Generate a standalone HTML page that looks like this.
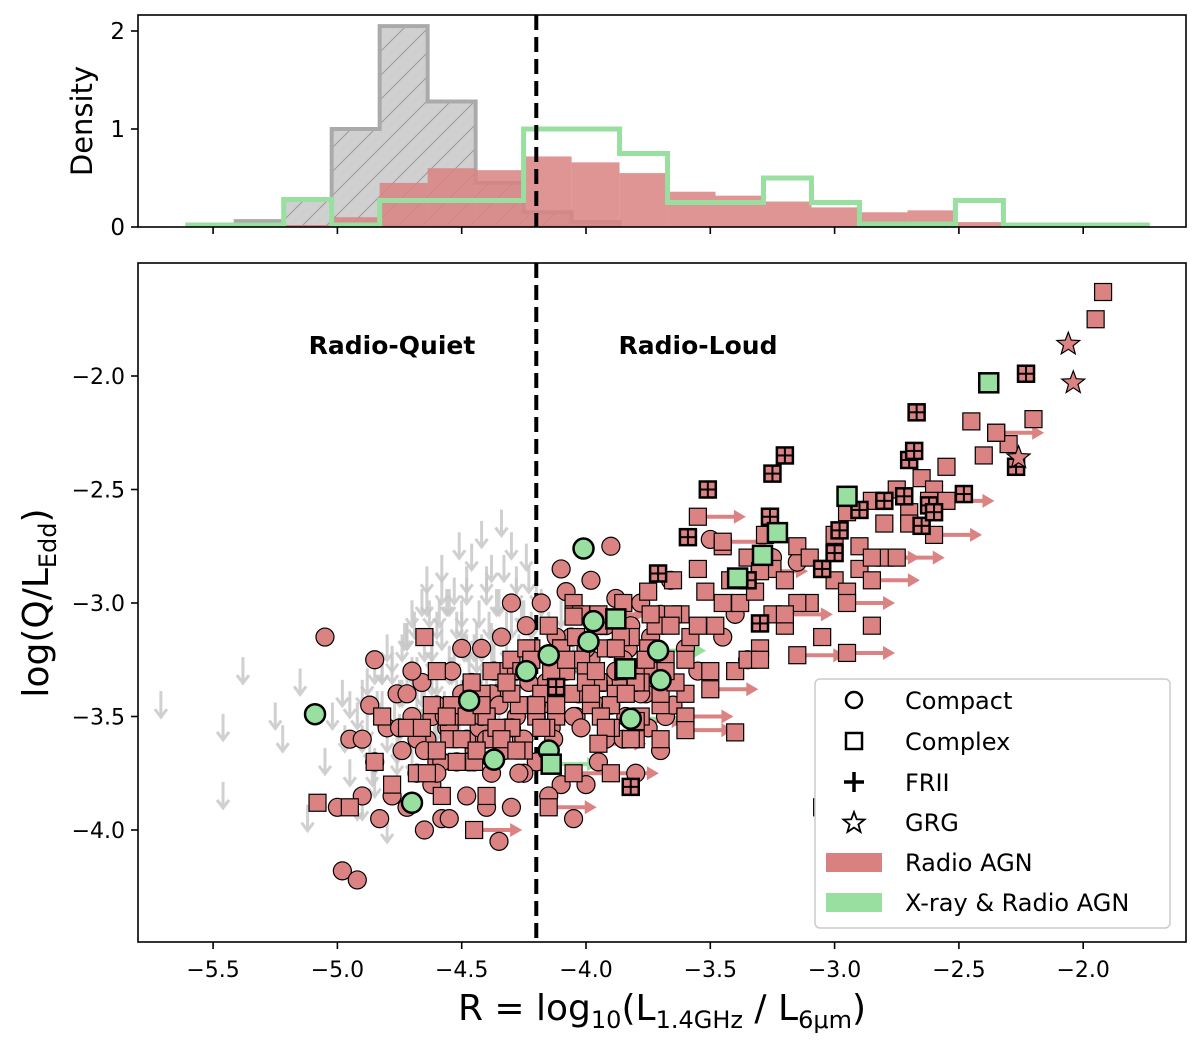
<!DOCTYPE html>
<html><head><meta charset="utf-8"><style>
body{margin:0;background:#fff}
svg{display:block;font-family:"DejaVu Sans","Liberation Sans",sans-serif}
</style></head><body>
<svg id="fig" width="1200" height="1048" viewBox="0 0 1200 1048" xmlns="http://www.w3.org/2000/svg">
<defs>
<pattern id="hatch" patternUnits="userSpaceOnUse" width="24" height="24">
<path d="M-6,30 L30,-6 M-6,6 L6,-6 M18,30 L30,18" stroke="#999" stroke-width="1"/>
</pattern>
<clipPath id="clipTop"><rect x="138" y="15" width="1048" height="212"/></clipPath>
<clipPath id="clipMain"><rect x="138" y="263" width="1048" height="679"/></clipPath>
</defs>
<g id="topPanel" clip-path="url(#clipTop)"></g>
<g id="mainPanel" clip-path="url(#clipMain)"></g>
<g id="axes"></g>
</svg>
<script>
const NS="http://www.w3.org/2000/svg";
// ---- histogram data ----
const histStart=-5.602;
const histWidth=0.193;
const grayHist=[0.02,0.06,0.28,1.0,2.05,1.28,0.45,0.15,0.05];
const redHist=[0,0,0.02,0.1,0.45,0.6,0.58,0.72,0.66,0.55,0.36,0.32,0.26,0.2,0.15,0.17,0.05,0.02];
const greenHist=[0.02,0.02,0.28,0.02,0.27,0.27,0.27,1.0,1.0,0.75,0.25,0.25,0.5,0.25,0.03,0.03,0.27,0.02,0.02,0.02];
const xTicks=[-5.5,-5.0,-4.5,-4.0,-3.5,-3.0,-2.5,-2.0];
const xTickLabels=["\u22125.5","\u22125.0","\u22124.5","\u22124.0","\u22123.5","\u22123.0","\u22122.5","\u22122.0"];
const densTicks=[0,1,2];
const yTicks=[-2.0,-2.5,-3.0,-3.5,-4.0];
const yTickLabels=["\u22122.0","\u22122.5","\u22123.0","\u22123.5","\u22124.0"];
const radioLoudCut=-4.2;
// ---- scatter data ----
const upperX=[-5.71,-5.46,-5.38,-5.46,-5.25,-5.22,-5.15,-5.12,-5.05,-5.02,-4.98,-4.95,-4.92,-4.9,-4.88,-4.85,-4.83,-4.8,-4.78,-4.76,-4.74,-4.72,-4.7,-4.68,-4.66,-4.64,-4.62,-4.6,-4.58,-4.56,-4.55,-4.53,-4.51,-4.5,-4.48,-4.46,-4.44,-4.42,-4.4,-4.38,-4.36,-4.34,-4.32,-4.3,-4.28,-4.26,-4.24,-4.22,-4.2,-4.18,-4.15,-4.12,-4.1,-4.05,-4.0,-4.9,-4.8,-4.7,-4.6,-4.5,-4.4,-4.35,-4.3,-4.25,-4.45,-4.55,-4.65,-4.75,-4.85,-4.95,-4.52,-4.42,-4.32,-4.62,-4.72,-4.82,-4.38,-4.28,-4.48,-4.58,
-4.9,-4.88,-4.85,-4.82,-4.8,-4.78,-4.75,-4.73,-4.7,-4.68,-4.65,-4.63,-4.6,-4.58,-4.55,-4.53,-4.5,-4.48,-4.45,-4.43,-4.4,-4.38,-4.35,-4.33,-4.3,-4.28,-4.25,-4.23,-4.87,-4.77,-4.67,-4.57,-4.47,-4.37,-4.27,-4.72,-4.62,-4.52,-4.42,-4.32,-4.82,-4.92,-4.97,-4.69,-4.59,-4.49,-4.39,-4.64,-4.54,-4.44,-4.74,-4.84,-4.66,-4.56,-4.46,-4.36,-4.76,-4.86,-4.61,-4.51];
const upperY=[-3.45,-3.55,-3.3,-3.85,-3.5,-3.6,-3.35,-3.95,-3.7,-3.5,-3.4,-3.75,-3.9,-3.6,-3.35,-3.8,-3.5,-3.2,-3.3,-3.65,-3.4,-3.15,-3.05,-3.3,-3.0,-2.9,-3.2,-3.1,-2.85,-3.0,-3.25,-2.95,-2.75,-3.05,-2.9,-2.8,-3.15,-2.7,-2.95,-2.85,-3.0,-2.65,-3.2,-2.75,-2.9,-3.05,-2.8,-3.1,-2.95,-3.0,-3.1,-3.15,-3.05,-3.2,-3.25,-3.9,-4.0,-3.7,-3.55,-3.4,-3.35,-3.5,-3.45,-3.3,-3.6,-3.3,-3.45,-3.55,-3.7,-3.45,-3.1,-3.2,-3.1,-3.35,-3.15,-3.3,-3.25,-3.35,-3.2,-2.95,
-3.4,-3.55,-3.3,-3.45,-3.6,-3.25,-3.4,-3.15,-3.3,-3.45,-3.2,-3.05,-3.35,-3.15,-3.0,-3.25,-3.1,-2.95,-3.2,-3.05,-2.9,-3.15,-3.0,-2.85,-3.1,-2.95,-3.05,-2.9,-3.65,-3.5,-3.55,-3.45,-3.3,-3.25,-3.2,-3.35,-3.25,-3.4,-3.35,-3.3,-3.3,-3.5,-3.6,-3.1,-3.05,-3.2,-3.1,-3.0,-3.3,-3.25,-3.2,-3.45,-3.4,-3.5,-3.45,-3.4,-3.7,-3.75,-3.6,-3.55];
const circX=[-5.05,-4.98,-4.95,-4.92,-4.9,-4.87,-4.85,-4.83,-4.8,-4.78,-4.76,-4.74,-4.72,-4.7,-4.68,-4.66,-4.64,-4.62,-4.6,-4.58,-4.56,-4.54,-4.52,-4.5,-4.48,-4.46,-4.44,-4.42,-4.4,-4.38,-4.36,-4.34,-4.32,-4.3,-4.28,-4.26,-4.24,-4.22,-4.2,-4.18,-4.16,-4.14,-4.12,-4.1,-4.08,-4.06,-4.04,-4.02,-4.0,-3.98,-3.96,-3.94,-3.92,-3.9,-3.88,-3.86,-3.84,-3.82,-3.8,-3.78,-3.76,-3.74,-3.72,-3.7,-3.68,-3.66,-3.6,-3.55,-3.5,-3.45,-3.4,-3.35,-3.3,-3.25,-3.15,-4.85,-4.75,-4.65,-4.55,-4.45,-4.35,-4.25,-4.15,-4.05,-3.95,-3.85,-3.75,-3.65,-4.9,-4.6,-4.4,-4.2,-4.0,-3.8,-4.3,-4.5,-4.1,-3.9,-3.7,-5.0,
-4.72,-4.68,-4.62,-4.58,-4.52,-4.48,-4.43,-4.38,-4.33,-4.28,-4.23,-4.18,-4.13,-4.08,-4.03,-3.98,-3.93,-3.88,-3.83,-3.78,-3.73,-4.65,-4.55,-4.45,-4.35,-4.25,-4.15,-4.05,-3.95,-3.85,-4.6,-4.5,-4.4,-4.3,-4.2,-4.1,-4.0,-3.9,-3.8,-4.7,-4.42,-4.32,-4.22,-4.12,-4.02,-3.92,-4.57,-4.47,-4.37,-4.27];
const circY=[-3.15,-4.18,-3.6,-4.22,-3.85,-3.45,-3.7,-3.95,-3.55,-3.85,-3.4,-3.65,-3.9,-3.5,-3.75,-3.35,-3.6,-3.8,-3.45,-3.95,-3.55,-3.3,-3.7,-3.45,-3.85,-3.35,-3.6,-3.2,-3.5,-3.75,-3.4,-3.15,-3.55,-3.9,-3.3,-3.6,-3.1,-3.45,-3.7,-3.0,-3.35,-3.55,-3.25,-3.8,-2.95,-3.15,-3.5,-3.05,-3.3,-2.9,-3.45,-3.1,-3.6,-3.2,-2.98,-3.35,-3.5,-3.1,-3.3,-3.0,-3.4,-3.15,-3.25,-3.05,-3.5,-2.9,-3.2,-3.3,-2.72,-3.15,-3.05,-3.25,-2.85,-2.8,-2.82,-3.25,-3.55,-4.0,-3.95,-3.65,-4.05,-3.75,-3.85,-3.95,-3.7,-3.6,-3.55,-3.45,-3.6,-3.7,-3.9,-3.5,-3.8,-3.75,-3.0,-3.2,-2.85,-2.75,-3.65,-3.9,
-3.4,-3.6,-3.5,-3.7,-3.45,-3.6,-3.55,-3.4,-3.65,-3.5,-3.35,-3.45,-3.6,-3.3,-3.4,-3.25,-3.35,-3.3,-3.2,-3.4,-3.3,-3.65,-3.55,-3.7,-3.45,-3.6,-3.4,-3.5,-3.35,-3.25,-3.75,-3.4,-3.6,-3.55,-3.45,-3.3,-3.2,-3.45,-3.35,-3.3,-3.5,-3.3,-3.25,-3.15,-3.55,-3.1,-3.5,-3.7,-3.3,-3.75];
const sqX=[-5.08,-4.95,-4.85,-4.82,-4.78,-4.72,-4.68,-4.62,-4.58,-4.55,-4.5,-4.45,-4.42,-4.38,-4.35,-4.3,-4.27,-4.22,-4.18,-4.15,-4.12,-4.08,-4.05,-4.02,-3.98,-3.95,-3.92,-3.88,-3.85,-3.82,-3.78,-3.75,-3.72,-3.68,-3.65,-3.62,-3.58,-3.55,-3.52,-3.48,-3.45,-3.42,-3.38,-3.35,-3.32,-3.28,-3.25,-3.2,-3.15,-3.1,-3.05,-3.0,-2.95,-2.9,-2.85,-2.8,-2.75,-2.7,-2.65,-2.6,-2.55,-2.45,-2.4,-2.35,-2.3,-2.2,-1.95,-1.92,-4.4,-4.2,-4.0,-3.9,-3.8,-3.7,-3.6,-3.5,-3.4,-3.3,-3.2,-3.1,-3.0,-2.9,-2.8,-2.7,-2.62,-4.6,-4.3,-4.1,-3.95,-3.85,-3.75,-3.65,-3.55,-3.45,-3.35,-3.25,-3.15,-3.05,-2.95,-2.85,-3.7,-3.6,-3.4,-3.3,-4.25,-4.45,-4.65,-4.05,
-4.66,-4.6,-4.54,-4.5,-4.46,-4.4,-4.36,-4.3,-4.26,-4.2,-4.16,-4.1,-4.06,-4.0,-3.96,-3.9,-3.86,-3.8,-3.76,-3.7,-3.66,-3.6,-4.64,-4.56,-4.44,-4.34,-4.24,-4.14,-4.04,-3.94,-3.84,-3.74,-3.64,-4.48,-4.38,-4.28,-4.18,-4.08,-3.98,-3.88,-3.78,-3.68,-4.52,-4.42,-4.32,-4.22,-4.12,-4.02,-3.92,-3.82];
const sqY=[-3.88,-3.9,-3.7,-3.5,-3.8,-3.55,-3.75,-3.45,-3.85,-3.6,-3.5,-3.7,-3.4,-3.6,-3.3,-3.55,-3.45,-3.2,-3.4,-3.1,-3.5,-3.3,-3.0,-3.25,-3.45,-3.1,-3.2,-3.4,-3.0,-3.15,-3.35,-2.95,-3.1,-3.25,-2.9,-3.05,-3.15,-2.85,-2.95,-3.1,-2.75,-2.9,-3.0,-2.8,-2.95,-2.7,-2.85,-2.9,-2.75,-2.8,-2.85,-2.7,-2.6,-2.75,-2.55,-2.65,-2.5,-2.6,-2.45,-2.5,-2.4,-2.2,-2.35,-2.25,-2.3,-2.19,-1.75,-1.63,-3.85,-3.5,-3.3,-3.55,-3.6,-3.45,-3.5,-3.3,-3.3,-3.2,-3.1,-3.0,-2.9,-2.85,-2.8,-2.65,-2.55,-3.3,-3.25,-3.2,-3.35,-3.3,-3.2,-3.05,-3.1,-3.0,-3.25,-3.05,-3.0,-3.15,-2.95,-3.1,-3.6,-3.4,-3.57,-3.25,-3.65,-3.45,-3.15,-3.05,
-3.55,-3.65,-3.45,-3.6,-3.35,-3.5,-3.55,-3.4,-3.3,-3.45,-3.55,-3.2,-3.4,-3.35,-3.3,-3.45,-3.15,-3.35,-3.25,-3.4,-3.1,-3.25,-3.75,-3.5,-3.65,-3.6,-3.2,-3.3,-3.15,-3.5,-3.4,-3.05,-3.35,-3.5,-3.3,-3.65,-3.55,-3.25,-3.4,-3.2,-3.5,-3.3,-3.7,-3.45,-3.35,-3.25,-3.45,-3.05,-3.55,-3.6];
const limX=[-4.45,-4.15,-4.05,-3.95,-3.8,-3.6,-3.5,-3.45,-3.3,-3.2,-3.15,-2.95,-2.85,-2.75,-2.6,-2.55,-2.35,-2.95,-2.85,-3.05,-3.6,-4.05,-3.95,-3.55,-3.9];
const limY=[-4.0,-3.9,-3.75,-3.62,-3.52,-3.5,-3.38,-2.73,-2.86,-3.05,-3.23,-3.0,-2.9,-2.8,-2.7,-2.55,-2.25,-3.22,-2.8,-3.9,-3.56,-3.06,-3.05,-2.62,-3.75];
const friiX=[-4.12,-3.82,-3.71,-3.59,-3.51,-3.35,-3.26,-3.25,-3.2,-3.05,-2.98,-2.9,-2.8,-2.7,-2.67,-2.65,-2.62,-2.6,-2.48,-2.27,-2.23,-2.72,-2.68,-3.3,-3.0];
const friiY=[-3.37,-3.81,-2.87,-2.71,-2.5,-2.9,-2.62,-2.43,-2.35,-2.85,-2.68,-2.59,-2.55,-2.37,-2.16,-2.66,-2.57,-2.6,-2.52,-2.4,-1.99,-2.53,-2.33,-3.09,-2.78];
const gCircX=[-5.09,-4.7,-4.47,-4.37,-4.24,-4.15,-4.15,-4.01,-3.99,-3.97,-3.82,-3.71,-3.7];
const gCircY=[-3.49,-3.88,-3.43,-3.69,-3.3,-3.23,-3.65,-2.76,-3.17,-3.08,-3.51,-3.21,-3.34];
const gSqX=[-4.14,-3.88,-3.84,-3.39,-3.29,-3.23,-2.95,-2.38];
const gSqY=[-3.71,-3.07,-3.29,-2.89,-2.79,-2.69,-2.53,-2.03];
const starX=[-2.06,-2.04,-2.26];
const starY=[-1.86,-2.03,-2.36];

const RED_C="#db8282",GREEN_C="#98dfa0",GRAY_C="#c8c8c8";
const X=v=>586+(v+4.0)*248.6;
const YD=v=>227-v*98;
const Y=v=>376-(v+2.0)*227;
function el(tag,attrs,parent){const e=document.createElementNS(NS,tag);for(const k in attrs)e.setAttribute(k,attrs[k]);parent.appendChild(e);return e;}
const topG=document.getElementById('topPanel'),mainG=document.getElementById('mainPanel'),axesG=document.getElementById('axes');

// histograms
function stepPath(h){let d="M"+X(histStart)+","+YD(0);h.forEach((v,i)=>{const x0=X(histStart+i*histWidth),x1=X(histStart+(i+1)*histWidth);d+=" L"+x0+","+YD(v)+" L"+x1+","+YD(v);});d+=" L"+X(histStart+h.length*histWidth)+","+YD(0);return d;}
const gp=el('path',{d:stepPath(grayHist)+"Z",fill:"#d0d0d0",stroke:"none"},topG);


const gh=el('path',{d:stepPath(grayHist)+"Z",fill:"url(#hatch)",stroke:"#aaa","stroke-width":4},topG);


redHist.forEach((v,i)=>{if(!v)return;const r=el('rect',{x:X(histStart+i*histWidth),y:YD(v),width:histWidth*248.6,height:YD(0)-YD(v),fill:RED_C,opacity:0.85},topG);

});
const grh=el('path',{d:stepPath(greenHist),fill:"none",stroke:GREEN_C,"stroke-width":5},topG);


el('line',{x1:X(radioLoudCut),x2:X(radioLoudCut),y1:15,y2:227,stroke:"#000","stroke-width":4,"stroke-dasharray":"15,7"},topG);

// scatter
upperX.forEach((x,i)=>{if(i>=upperY.length)return;const cx=X(x),cy=Y(upperY[i]);const g=el('g',{opacity:0.85},mainG);


el('line',{x1:cx,y1:cy-14,x2:cx,y2:cy+10,stroke:GRAY_C,"stroke-width":3},g);
el('path',{d:`M${cx-6},${cy+4} L${cx},${cy+12} L${cx+6},${cy+4}`,fill:"none",stroke:GRAY_C,"stroke-width":3},g);});
el('line',{x1:X(radioLoudCut),x2:X(radioLoudCut),y1:263,y2:942,stroke:"#000","stroke-width":4,"stroke-dasharray":"15,7"},mainG);
function arrow(cx,cy,col){const g=el('g',{},mainG);


el('line',{x1:cx,y1:cy,x2:cx+32,y2:cy,stroke:col,"stroke-width":4},g);
el('path',{d:`M${cx+30},${cy-7} L${cx+42},${cy} L${cx+30},${cy+7}Z`,fill:col},g);}
limX.forEach((x,i)=>arrow(X(x)+6,Y(limY[i]),RED_C));
arrow(X(-3.71)+6,Y(-3.21),GREEN_C);arrow(X(-3.82)+6,Y(-3.51),GREEN_C);arrow(X(-4.14)+6,Y(-3.71),GREEN_C);
function circ(x,y,r,fill,sw,name){const c=el('circle',{cx:X(x),cy:Y(y),r:r,fill:fill,stroke:"#000","stroke-width":sw},mainG);

}
function sq(x,y,s,fill,sw,name){const c=el('rect',{x:X(x)-s/2,y:Y(y)-s/2,width:s,height:s,fill:fill,stroke:"#000","stroke-width":sw},mainG);

}
circX.forEach((x,i)=>{if(i<circY.length)circ(x,circY[i],9,RED_C,1.2,'compact-radio-agn');});
sqX.forEach((x,i)=>{if(i<sqY.length)sq(x,sqY[i],17,RED_C,1.2,'complex-radio-agn');});
limX.forEach((x,i)=>sq(x,limY[i],17,RED_C,1.2,'complex-radio-agn-limit'));
friiX.forEach((x,i)=>{sq(x,friiY[i],16,RED_C,2.5,'frii-radio-agn');const cx=X(x),cy=Y(friiY[i]);
el('line',{x1:cx-7,x2:cx+7,y1:cy,y2:cy,stroke:"#000","stroke-width":2},mainG);el('line',{x1:cx,x2:cx,y1:cy-7,y2:cy+7,stroke:"#000","stroke-width":2},mainG);});
gCircX.forEach((x,i)=>circ(x,gCircY[i],10,GREEN_C,2.5,'compact-xray-radio-agn'));
gSqX.forEach((x,i)=>sq(x,gSqY[i],19,GREEN_C,2.5,'complex-xray-radio-agn'));
function starPts(cx,cy,R){let p=[];for(let k=0;k<10;k++){const r=k%2?R*0.42:R;const a=-Math.PI/2+k*Math.PI/5;p.push((cx+r*Math.cos(a)).toFixed(1)+","+(cy+r*Math.sin(a)).toFixed(1));}return p.join(" ");}
starX.forEach((x,i)=>{const s=el('polygon',{points:starPts(X(x),Y(starY[i]),12),fill:RED_C,stroke:"#000","stroke-width":1.2},mainG);

});

// axes frames
el('rect',{x:138,y:15,width:1048,height:212,fill:"none",stroke:"#000","stroke-width":1.6},axesG);
el('rect',{x:138,y:263,width:1048,height:679,fill:"none",stroke:"#000","stroke-width":1.6},axesG);
function txt(s,attrs,name){const t=el('text',attrs,axesG);t.textContent=s;

return t;}
xTicks.forEach((v,i)=>{const x=X(v);el('line',{x1:x,x2:x,y1:227,y2:234,stroke:"#000","stroke-width":1.6},axesG);
el('line',{x1:x,x2:x,y1:942,y2:949,stroke:"#000","stroke-width":1.6},axesG);
txt(xTickLabels[i],{x:x,y:977,"font-size":22,"text-anchor":"middle"},'x-tick-label');});
densTicks.forEach(v=>{const y=YD(v);el('line',{x1:131,x2:138,y1:y,y2:y,stroke:"#000","stroke-width":1.6},axesG);
txt(String(v),{x:125,y:y+8,"font-size":23,"text-anchor":"end"},'density-tick-label');});
yTicks.forEach((v,i)=>{const y=Y(v);el('line',{x1:131,x2:138,y1:y,y2:y,stroke:"#000","stroke-width":1.6},axesG);
txt(yTickLabels[i],{x:125,y:y+8,"font-size":22,"text-anchor":"end"},'y-tick-label');});
txt("Density",{x:92,y:121,"font-size":29,"text-anchor":"middle",transform:"rotate(-90 92 121)"},'density-axis-title');
function tspan(parent,s,attrs){const t=el('tspan',attrs,parent);t.textContent=s;return t;}
const yl=txt("",{x:48,y:603,"font-size":36,"text-anchor":"middle",transform:"rotate(-90 48 603)"},'y-axis-title');
tspan(yl,"log(Q/L",{});tspan(yl,"Edd",{"font-size":24,dy:8});tspan(yl,")",{dy:-8});
const xl=txt("",{x:662,y:1020,"font-size":36,"text-anchor":"middle"},'x-axis-title');
tspan(xl,"R = log",{});tspan(xl,"10",{"font-size":24,dy:8});tspan(xl,"(L",{dy:-8});tspan(xl,"1.4GHz",{"font-size":24,dy:8});
tspan(xl," / L",{dy:-8});tspan(xl,"6μm",{"font-size":24,dy:8});tspan(xl,")",{dy:-8});
txt("Radio-Quiet",{x:392,y:354,"font-size":25,"font-weight":"bold","text-anchor":"middle"},'radio-quiet-label');
txt("Radio-Loud",{x:698,y:354,"font-size":25,"font-weight":"bold","text-anchor":"middle"},'radio-loud-label');

// legend
const lg=el('g',{},axesG);


el('rect',{x:815,y:679,width:355,height:249,rx:5,fill:"#fff",stroke:"#ccc","stroke-width":1.5},lg);
const ly=[700,741,782,822,862,902];
const lt=["Compact","Complex","FRII","GRG","Radio AGN","X-ray & Radio AGN"];
el('circle',{cx:854,cy:ly[0],r:8,fill:"none",stroke:"#000","stroke-width":2.5},lg);
el('rect',{x:846,y:ly[1]-8,width:16,height:16,fill:"none",stroke:"#000","stroke-width":2.5},lg);
el('path',{d:`M844,${ly[2]} h20 M854,${ly[2]-10} v20`,stroke:"#000","stroke-width":3.5},lg);
el('polygon',{points:starPts(854,ly[3]+1,11),fill:"none",stroke:"#000","stroke-width":1.8},lg);
el('rect',{x:826,y:ly[4]-9,width:56,height:19,fill:"#d98080"},lg);
el('rect',{x:826,y:ly[5]-9,width:56,height:19,fill:GREEN_C},lg);
lt.forEach((s,i)=>{const t=el('text',{x:905,y:ly[i]+9,"font-size":24},lg);t.textContent=s;

});
</script>
</body></html>
